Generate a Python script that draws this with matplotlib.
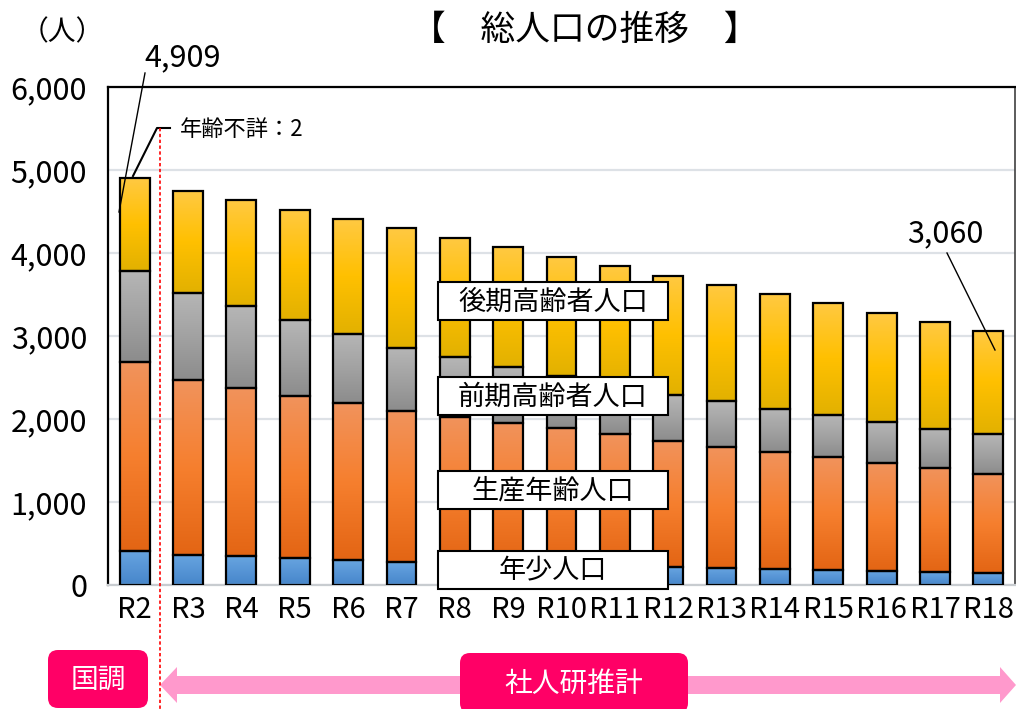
import numpy as np
import matplotlib
matplotlib.use("Agg")
import matplotlib.pyplot as plt
from matplotlib.colors import LinearSegmentedColormap
from matplotlib.patches import Rectangle, FancyBboxPatch, Polygon

plt.rcParams['font.family'] = ['Noto Sans CJK JP', 'DejaVu Sans']

# data
years = ['R2', 'R3', 'R4', 'R5', 'R6', 'R7', 'R8', 'R9', 'R10', 'R11',
         'R12', 'R13', 'R14', 'R15', 'R16', 'R17', 'R18']
young = [413, 365, 349, 329, 301, 277, 255, 240, 228, 218, 213, 205, 189, 181, 169, 153, 141]
working = [2270, 2105, 2028, 1952, 1888, 1819, 1775, 1715, 1660, 1597, 1526, 1462, 1413, 1357, 1301, 1257, 1196]
early_old = [1104, 1052, 984, 912, 839, 763, 713, 675, 627, 585, 550, 546, 522, 506, 498, 470, 479]
late_old = [1120, 1221, 1274, 1329, 1382, 1438, 1438, 1442, 1440, 1447, 1438, 1405, 1382, 1350, 1313, 1289, 1244]
unknown_r2 = 2
total_first = 4909
total_last = 3060

series = [young, working, early_old, late_old]
grads = [['#68a5e0', '#5795d6', '#4686ca'],           # blue
         ['#f1935c', '#f67f2e', '#e36514'],           # orange
         ['#b6b6b6', '#a2a2a2', '#8c8c8c'],           # gray
         ['#ffc942', '#ffc000', '#e2b100']]           # yellow

fig = plt.figure(figsize=(10.16, 7.09), dpi=100)
ax = fig.add_axes([108/1016, 124/709, 907/1016, 498/709])

x = np.arange(len(years))
bottom = np.zeros(len(years))
grad = np.linspace(0, 1, 200).reshape(-1, 1)
for vals, cols in zip(series, grads):
	cmap = LinearSegmentedColormap.from_list('g', cols)
	bars = ax.bar(x, vals, 0.56, bottom=bottom, facecolor='none',
	              edgecolor='black', linewidth=1.6, zorder=3)
	for p in bars:	# vertical gradient fill inside each bar
		x0, y0, w, h = p.get_x(), p.get_y(), p.get_width(), p.get_height()
		ax.imshow(grad, cmap=cmap, aspect='auto', extent=[x0, x0+w, y0, y0+h],
		          zorder=2, interpolation='bilinear')
	bottom += np.array(vals)

ax.set_xlim(-0.5, len(years)-0.5)
ax.set_ylim(0, 6000)
ax.set_aspect('auto')
ax.set_yticks(range(0, 6001, 1000))
ax.set_yticklabels(['{:,}'.format(v) for v in range(0, 6001, 1000)])
ax.set_xticks(x)
ax.set_xticklabels(years)
ax.tick_params(axis='both', length=0)
ax.tick_params(axis='y', pad=15, labelsize=22)
ax.tick_params(axis='x', pad=7, labelsize=21)
ax.yaxis.grid(True, color='#dde1e6', linewidth=1.6, zorder=0)
ax.set_axisbelow(True)
ax.spines['left'].set_linewidth(1.6)
ax.spines['top'].set_linewidth(1.6)
ax.spines['right'].set_color('#404040')
ax.spines['right'].set_linewidth(1.2)
ax.spines['bottom'].set_color('#c8ccd0')
ax.spines['bottom'].set_linewidth(1.6)

# overlay in pixel coordinates for annotations
ov = fig.add_axes([0, 0, 1, 1], zorder=5)
ov.set_xlim(0, 1016)
ov.set_ylim(709, 0)
ov.axis('off')

ov.text(585, 30, '【　総人口の推移　】', fontsize=25, ha='center', va='center')
ov.text(62, 32, '（人）', fontsize=20, ha='center', va='center')

ov.text(183, 58, '{:,}'.format(total_first), fontsize=22, ha='center', va='center')
ov.plot([145, 119], [73, 212], color='black', lw=1)
ov.text(180, 130, '年齢不詳：{}'.format(unknown_r2), fontsize=16, ha='left', va='center')
ov.plot([170, 157, 133], [128, 128, 176], color='black', lw=1.5)
ov.text(945, 234, '{:,}'.format(total_last), fontsize=22, ha='center', va='center')
ov.plot([947, 995], [253, 350], color='black', lw=1)

ov.plot([160, 160], [128, 709], color='red', lw=1.2, ls=(0, (2, 1.5)))

labels = ['後期高齢者人口', '前期高齢者人口', '生産年齢人口', '年少人口']
tops = [282, 377, 471, 551]
for lab, t in zip(labels, tops):
	ov.add_patch(Rectangle((438, t), 230, 38, facecolor='white', edgecolor='black', lw=1.5))
	ov.text(553, t+20, lab, fontsize=19.5, ha='center', va='center')

# double arrow for the projection period
ov.add_patch(Polygon([(160, 685), (177, 667), (177, 676), (1000, 676), (1000, 667),
                      (1016, 685), (1000, 703), (1000, 694), (177, 694), (177, 703)],
                     closed=True, facecolor='#ff99cc', edgecolor='none'))
ov.add_patch(FancyBboxPatch((48, 650), 100, 58, boxstyle='round,pad=0,rounding_size=10',
                            facecolor='#ff0066', edgecolor='none'))
ov.text(98, 680, '国調', fontsize=20, color='white', ha='center', va='center')
ov.add_patch(FancyBboxPatch((460, 653), 228, 60, boxstyle='round,pad=0,rounding_size=10',
                            facecolor='#ff0066', edgecolor='none'))
ov.text(574, 684, '社人研推計', fontsize=20, color='white', ha='center', va='center')

fig.savefig('out.png', dpi=100)
